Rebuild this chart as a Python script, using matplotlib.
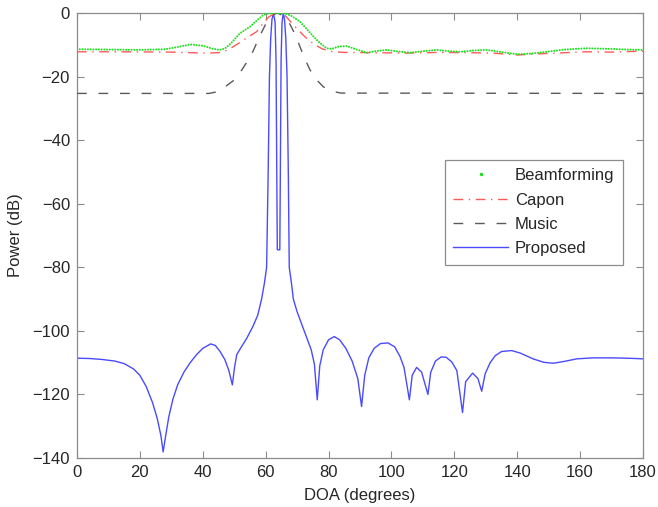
import matplotlib
matplotlib.use("Agg")
import matplotlib.pyplot as plt
from matplotlib.lines import Line2D

plt.rcParams['font.family'] = ['Liberation Sans', 'DejaVu Sans']

# ---- data ----
beam_doa = [0, 10, 20, 28, 32, 36, 40, 43, 45.3, 47, 49, 51.8, 55, 57, 59.3, 61, 63.5,
            66, 68, 70.9, 73, 75.2, 77, 79.4, 81, 83, 85.8, 89, 92.1, 95, 98.5, 102,
            105.9, 110, 114.4, 118, 122, 126, 130.3, 135, 140.4, 145, 149.4, 155, 162,
            170, 175, 180]
beam_db = [-11.4, -11.5, -11.6, -11.4, -10.7, -9.9, -10.3, -11.2, -11.6, -11.2, -9.5, -6.4,
           -4.3, -2.5, -0.6, -0.1, 0.0, -0.1, -0.8, -2.7, -5.0, -7.4, -9.2, -11.1, -11.3,
           -10.6, -10.4, -11.5, -12.5, -12.0, -11.6, -12.1, -12.5, -12.0, -11.6, -12.0,
           -12.2, -11.8, -11.6, -12.3, -13.0, -12.7, -12.2, -11.5, -11.1, -11.3, -11.5, -11.6]

capon_doa = [0, 15, 30, 40, 45, 47, 49, 51.8, 54, 57.1, 59, 61, 63, 64, 65, 66, 68, 70,
             72.5, 75.2, 78, 81.5, 85, 95, 105, 115, 125, 132, 140, 148, 155, 162, 170, 180]
capon_db = [-12.2, -12.2, -12.3, -12.6, -12.5, -12.0, -11.0, -9.3, -7.8, -5.9, -3.5, -1.2,
            -0.1, 0.0, -0.1, -0.6, -2.8, -5.0, -7.5, -9.7, -11.3, -12.2, -12.4, -12.5,
            -12.6, -12.4, -12.5, -12.6, -13.2, -12.8, -12.5, -12.2, -12.3, -12.0]

music_doa = [0, 42, 44.5, 47, 49.7, 52, 54, 56, 58, 60, 62, 63.7, 65.5, 67.7, 69.5, 70.9,
             72.5, 74.1, 76, 78.3, 81.5, 84, 180]
music_db = [-25.3, -25.3, -24.8, -23.3, -21.3, -18.5, -15.5, -12.0, -7.5, -3.5, -0.7, 0.0,
            -0.8, -3.5, -7.0, -10.6, -14.5, -17.9, -20.8, -23.2, -24.7, -25.2, -25.3]

prop_doa = [0, 4, 8, 12, 15, 18, 20, 22, 24, 25.5, 26.7, 27.4, 28.2, 29.2, 30.5, 32, 34,
            36, 38, 40, 42.5, 44, 45.5, 47, 48.3, 49.4, 50.1, 50.8, 52, 54, 56, 57.5,
            58.7, 59.6, 60.3, 60.8, 61.2, 61.6, 62.0, 62.5, 63.0, 63.3, 63.5, 63.7, 64.5,
            64.7, 64.9, 65.2, 65.6, 66.0, 66.4, 66.8, 67.2, 67.5, 68.2, 68.8, 70, 71.5,
            73, 74.5, 75.5, 76.4, 77.2, 78.3, 80, 81.8, 83.5, 85.5, 87.5, 89.3, 90.5,
            91.5, 92.8, 94.5, 96.5, 98.9, 101, 102.7, 104, 105.7, 106.6, 108, 109.6,
            111.6, 112.5, 114, 115.8, 117.4, 119.2, 120.8, 122.6, 123.6, 125.8, 127.5,
            128.7, 129.8, 131.4, 133, 135, 138.2, 141, 145, 148.5, 151.5, 155, 159, 164,
            170, 175, 180]
prop_db = [-108.6, -108.7, -109.0, -109.5, -110.3, -112.0, -114.0, -117.5, -122.5, -127.5,
           -133, -138.1, -133, -127, -121.5, -117, -113, -110, -107.5, -105.5, -104.1,
           -104.6, -106.5, -109, -112.5, -117, -111.5, -107.5, -105.5, -102.3, -98.5, -95,
           -90, -85, -80, -50, -20, -8, -2, 0, -3, -15, -45, -74.5, -74.5, -45, -15, -3,
           0, -2, -8, -20, -50, -80, -85, -90, -94, -98, -102, -106, -110.5, -121.7, -111,
           -106, -102.8, -101.8, -102.8, -105.5, -109.5, -115, -123.8, -114, -108.5,
           -105.5, -104, -103.8, -105, -108, -111.5, -121.7, -114, -111.5, -113, -120,
           -113, -109.5, -108.2, -108.3, -109.8, -112.5, -125.7, -116, -113.3, -115, -119,
           -113.5, -110, -107.8, -106.5, -106.2, -107, -108.8, -109.9, -110.2, -109.6,
           -108.8, -108.5, -108.5, -108.6, -108.8]

labels = ['Beamforming', 'Capon', 'Music', 'Proposed']
xticks = list(range(0, 181, 20))
yticks = list(range(-140, 1, 20))

# ---- styles ----
c_beam = '#1ee01e'
c_capon = '#ff5a5a'
c_music = '#5a5a5a'
c_prop = '#4a4aff'
axis_gray = '#8c8c8c'
text_col = '#262626'

fig = plt.figure(figsize=(6.58, 5.07), dpi=100)
ax = fig.add_axes([77/658, 1-458/507, (643-77)/658, (458-13)/507])

ax.plot(prop_doa, prop_db, color=c_prop, lw=1.0, zorder=2)
ax.plot(music_doa, music_db, color=c_music, lw=1.0, dashes=(7, 8.5), zorder=3)
ax.plot(capon_doa, capon_db, color=c_capon, lw=1.0, dashes=(7, 4, 1, 4), zorder=4)
ax.plot(beam_doa, beam_db, color=c_beam, lw=1.5, linestyle=(0, (0.01, 1.3)),
        dash_capstyle='round', zorder=5)

ax.set_xlim(xticks[0], xticks[-1])
ax.set_ylim(yticks[0], yticks[-1])
ax.set_xticks(xticks)
ax.set_yticks(yticks)
ax.set_yticklabels([f"\u2212{abs(v)}" if v < 0 else str(v) for v in yticks])
ax.tick_params(direction='in', length=5, width=0.8, colors=axis_gray,
               labelcolor=text_col, labelsize=12, top=True, right=True, pad=5)
for s in ax.spines.values():
    s.set_color(axis_gray)
    s.set_linewidth(0.9)

ax.set_xlabel('DOA (degrees)', fontsize=12, color=text_col, labelpad=5.5)
ax.set_ylabel('Power (dB)', fontsize=12, color=text_col, labelpad=6.5)

handles = [
    Line2D([], [], color=c_beam, marker='.', linestyle='none', markersize=3),
    Line2D([], [], color=c_capon, lw=1.0, dashes=(7, 4, 1, 4)),
    Line2D([], [], color=c_music, lw=1.0, dashes=(7, 8.5)),
    Line2D([], [], color=c_prop, lw=1.0),
]
leg = ax.legend(handles, labels, loc='upper left', bbox_to_anchor=(0.650, 0.670),
                borderaxespad=0, fancybox=False, framealpha=1, edgecolor=axis_gray,
                fontsize=12, handlelength=3.3, handletextpad=0.4, labelspacing=0.56,
                borderpad=0.5)
leg.get_frame().set_linewidth(0.9)
for t in leg.get_texts():
    t.set_color(text_col)

fig.savefig('out.png', dpi=100)
